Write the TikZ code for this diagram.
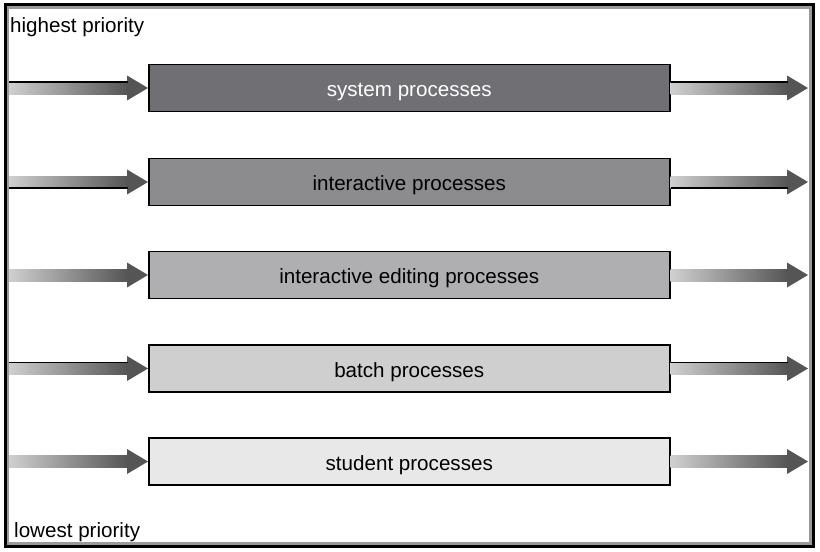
\documentclass[tikz,border=0pt]{standalone}
\usepackage{fontspec}
\setmainfont{Liberation Sans}
\usetikzlibrary{calc}
\definecolor{boxa}{HTML}{707074}
\definecolor{boxb}{HTML}{8C8C8E}
\definecolor{boxc}{HTML}{AFAEB1}
\definecolor{boxd}{HTML}{CFCFCF}
\definecolor{boxe}{HTML}{E8E8E8}
\definecolor{arrowlight}{HTML}{D0D0D0}
\definecolor{arrowdark}{HTML}{555555}
\definecolor{framegray}{HTML}{9A9A9A}
\newcommand\prioarrow[2]{%
  \shade[left color=arrowlight, right color=arrowdark]
    ($(#1)+(0,-6)$) rectangle ($(#2)+(-20,6)$);
  \fill[arrowdark] ($(#2)+(-21,-12.5)$) -- (#2) -- ($(#2)+(-21,12.5)$) -- cycle;}
\newcommand\topline[2]{\draw[line width=1.2pt] ($(#1)+(0,-6)$) -- ($(#2)+(-20,-6)$);}
\newcommand\botline[2]{\draw[line width=1.2pt] ($(#1)+(0,6)$) -- ($(#2)+(-20,6)$);}
\begin{document}
\begin{tikzpicture}[x=1pt,y=-1pt,font=\fontsize{20.6}{24}\selectfont,
  pbox/.style={draw=black, line width=1.5pt, minimum width=521pt, minimum height=47pt,
    inner sep=0pt, anchor=west, text height=19pt, text depth=2pt},
  lbl/.style={anchor=base west, inner sep=0pt}]
\useasboundingbox (0,0) rectangle (820,552);
\fill[white] (0,0) rectangle (820,552);
% boxes
\node[pbox, fill=boxa, text=white] (b1) at (148,88) {system processes};
\node[pbox, fill=boxb] (b2) at (148,182) {interactive processes};
\node[pbox, fill=boxc] (b3) at (148,275) {interactive editing processes};
\node[pbox, fill=boxd] (b4) at (148,368.5) {batch processes};
\node[pbox, fill=boxe] (b5) at (148,461.5) {student processes};
% arrow end points
\foreach \i/\y in {1/88,2/182,3/275,4/368.5,5/461.5}{
  \coordinate (l\i) at (8,\y);
  \coordinate (r\i) at (808,\y);
}
\foreach \i in {1,...,5}{
  \prioarrow{l\i}{b\i.west}
  \prioarrow{b\i.east}{r\i}
}
\topline{l1}{b1.west}\topline{b1.east}{r1}
\botline{l2}{b2.west}\botline{b2.east}{r2}
\topline{l4}{b4.west}\topline{b4.east}{r4}
% labels
\node[lbl] (hi) at (10,32.5) {highest priority};
\node[lbl] (lo) at (14,537.5) {lowest priority};
% frame
\draw[framegray, line width=2.6pt] (7.8,7.4) rectangle (810.3,543.4);
\draw[black, line width=3.2pt] (5.2,4.6) rectangle (813.6,546.8);
\end{tikzpicture}
\end{document}
